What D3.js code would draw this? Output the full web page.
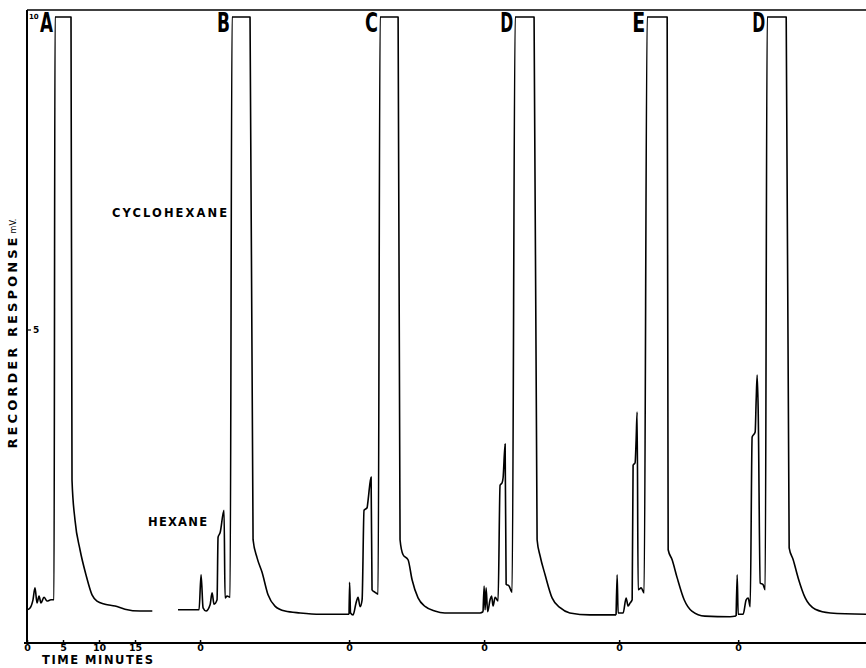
<!DOCTYPE html>
<html>
<head>
<meta charset="utf-8">
<script src="https://cdn.jsdelivr.net/npm/d3@7"></script>
<style>
  body { margin: 0; background: #fff; }
  svg { display: block; }
  text { font-family: "DejaVu Sans", "Liberation Sans", sans-serif; font-weight: bold; fill: #000; }
</style>
</head>
<body>
<script>
var width = 866,
    height = 668

// chromatogram letters and injection times (minutes along chart paper)
var letters = ["A", "B", "C", "D", "E", "D"];
var injections = [0, 24.03, 44.72, 63.47, 82.22, 98.75];

// each run: [minutes after injection, mV]; 10 mV = pen off scale
var runA = [[0,0.53],[0.42,0.56],[0.83,0.69],[1.11,0.88],[1.39,0.64],[1.67,0.75],[1.94,0.64],[2.36,0.73],[2.78,0.67],[3.33,0.69],[3.75,0.69],
  [3.89,10],[6.11,10],[6.25,2.6],[6.67,1.96],[7.36,1.49],[8.19,1.09],[9.03,0.77],[9.72,0.67],[10.83,0.62],[12.22,0.59],[13.6,0.54],[15.7,0.51],[17.4,0.51]];
var runB = [[-3.06,0.53],[-0.14,0.53],[0.14,1.09],[0.42,0.56],[0.83,0.51],[1.39,0.61],[1.67,0.8],[1.94,0.62],[2.36,0.69],[2.5,1.69],[2.78,1.76],[3.33,2.12],[3.47,0.72],[3.75,0.75],[4.17,0.73],
  [4.44,10],[6.94,10],[7.36,1.65],[7.92,1.36],[8.61,1.13],[9.44,0.77],[10.4,0.59],[11.8,0.51],[13.9,0.48],[16.7,0.46],[19.4,0.46],[20.69,0.46]];
var runC = [[0,0.46],[0.07,0.97],[0.21,0.48],[0.56,0.45],[0.97,0.64],[1.25,0.73],[1.53,0.58],[1.81,0.69],[2.08,2.12],[2.5,2.16],[2.64,2.28],[3.06,2.65],[3.19,0.85],[3.61,0.81],[4.03,0.78],
  [4.31,10],[6.81,10],[7.08,1.65],[7.5,1.41],[8.19,1.33],[8.75,1.01],[9.58,0.72],[10.6,0.58],[11.9,0.51],[13.3,0.48],[18.2,0.48],[18.61,0.5]];
var runD1 = [[-0.14,0.5],[0,0.91],[0.14,0.53],[0.28,0.88],[0.49,0.5],[0.83,0.69],[1.04,0.75],[1.25,0.59],[1.53,0.73],[1.94,0.67],[2.22,2.52],[2.5,2.56],[2.64,2.64],[2.92,3.18],[3.06,0.94],[3.47,0.91],[3.89,0.81],
  [4.31,10],[6.94,10],[7.36,1.65],[7.78,1.39],[8.47,1.09],[9.44,0.72],[10.6,0.56],[11.9,0.48],[14.7,0.45],[18.33,0.45]];
var runE = [[-0.42,0.45],[-0.28,1.09],[-0.14,0.48],[0.56,0.48],[0.97,0.72],[1.25,0.59],[1.53,0.64],[1.81,0.69],[1.94,2.84],[2.22,2.88],[2.36,3.24],[2.5,3.69],[2.64,0.85],[3.06,0.88],[3.47,0.8],
  [3.89,10],[6.67,10],[6.81,1.49],[7.36,1.33],[8.06,1.04],[9.03,0.69],[10.1,0.51],[11.9,0.43],[15.4,0.42],[16.25,0.43]];
var runD2 = [[-0.28,0.43],[-0.14,1.09],[0,0.46],[0.69,0.46],[1.11,0.69],[1.39,0.72],[1.67,0.58],[1.94,3.29],[2.36,3.37],[2.5,3.88],[2.64,4.28],[2.78,3.72],[3.06,0.96],[3.47,0.93],[3.75,0.85],
  [4.03,10],[6.67,10],[7.08,1.52],[7.64,1.33],[8.33,1.04],[9.31,0.72],[10.7,0.54],[12.8,0.48],[17.8,0.46]];
var runs = [runA, runB, runC, runD1, runE, runD2];

var timeTicks = [0, 5, 10, 15];
var yTicks = [5, 10];

var svg = d3.select("body").append("svg")
    .attr("width", width)
    .attr("height", height);

var x = d3.scaleLinear().domain([0, 116.5]).range([27, 866]);
var y = d3.scaleLinear().domain([0, 10]).range([643, 17]);

// frame: left axis, top border, bottom axis
svg.append("line")
    .attr("x1", x(0)).attr("x2", x(0))
    .attr("y1", y(10.11)).attr("y2", y(0))
    .attr("stroke", "#000").attr("stroke-width", 2);
svg.append("line")
    .attr("x1", x(0)).attr("x2", width)
    .attr("y1", y(10.11)).attr("y2", y(10.11))
    .attr("stroke", "#000").attr("stroke-width", 1.5);

var xTickVals = timeTicks.concat(injections.slice(1));
var xAxis = d3.axisBottom(x)
    .tickValues(xTickVals)
    .tickSize(-3)
    .tickPadding(2)
    .tickFormat((d, i) => i < timeTicks.length ? d : "0");

var gx = svg.append("g")
    .attr("transform", "translate(0," + y(0) + ")")
    .call(xAxis);
gx.select(".domain").remove();
gx.selectAll(".tick line").attr("stroke", "#000").attr("stroke-width", 1.5);
gx.selectAll(".tick text")
    .style("font-size", "9.5px")
    .attr("dy", "0.6em");
gx.append("line")
    .attr("x1", x(0) - 3).attr("x2", width)
    .attr("stroke", "#000").attr("stroke-width", 2);

// y labels
var gy = svg.append("g");
gy.selectAll("line.yt")
    .data([5])
    .enter().append("line")
    .attr("x1", x(0)).attr("x2", x(0) + 4)
    .attr("y1", d => y(d)).attr("y2", d => y(d))
    .attr("stroke", "#000").attr("stroke-width", 1.2);
gy.selectAll("text")
    .data(yTicks)
    .enter().append("text")
    .attr("x", d => d == 10 ? x(0) + 2 : x(0) + 6)
    .attr("y", d => y(d) + (d == 10 ? 2 : 3))
    .style("font-size", d => d == 10 ? "7px" : "9px")
    .text(d => d);

svg.append("text")
    .attr("transform", "translate(17,343) rotate(-90)")
    .attr("text-anchor", "middle")
    .attr("textLength", 211)
    .attr("lengthAdjust", "spacing")
    .style("font-size", "13px")
    .text("RECORDER RESPONSE");
svg.append("text")
    .attr("transform", "translate(16,226) rotate(-90)")
    .attr("text-anchor", "middle")
    .style("font-size", "8px")
    .style("font-weight", "normal")
    .text("mV.");

svg.append("text")
    .attr("x", 42).attr("y", 664)
    .attr("textLength", 111)
    .attr("lengthAdjust", "spacing")
    .style("font-size", "11.5px")
    .text("TIME MINUTES");

// traces
var line = d3.line().curve(d3.curveMonotoneX);
runs.forEach(function(run, i) {
  var t0 = injections[i];
  svg.append("path")
      .datum(run)
      .attr("fill", "none")
      .attr("stroke", "#000")
      .attr("stroke-width", 1.6)
      .attr("stroke-linejoin", "round")
      .attr("d", line.x(d => x(t0 + d[0])).y(d => y(d[1])));

  var top = run.find(d => d[1] >= 10);
  svg.append("text")
      .attr("x", x(t0 + top[0]) - 15)
      .attr("y", 32)
      .attr("textLength", 13)
      .attr("lengthAdjust", "spacingAndGlyphs")
      .style("font-size", "27px")
      .text(letters[i]);
});

// peak labels
svg.append("text")
    .attr("x", 112).attr("y", 217)
    .attr("textLength", 115)
    .attr("lengthAdjust", "spacing")
    .style("font-size", "11.5px")
    .text("CYCLOHEXANE");
svg.append("text")
    .attr("x", 148).attr("y", 526)
    .attr("textLength", 59)
    .attr("lengthAdjust", "spacing")
    .style("font-size", "11.5px")
    .text("HEXANE");
</script>
</body>
</html>
